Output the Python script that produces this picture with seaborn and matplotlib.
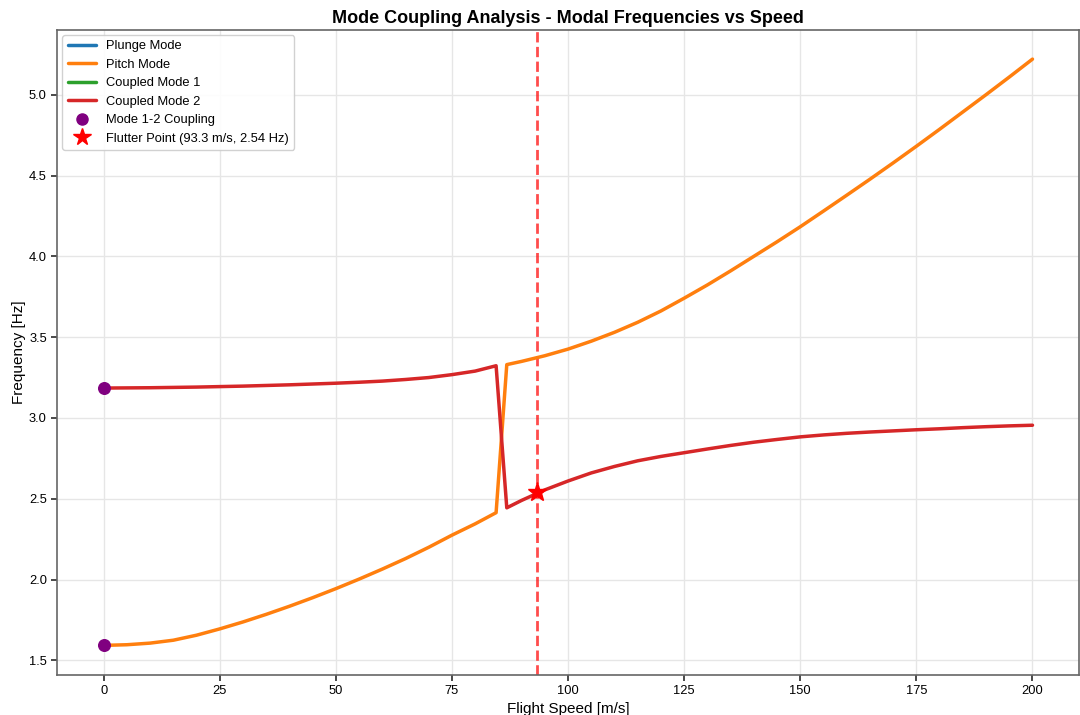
import matplotlib
matplotlib.use("Agg")
import matplotlib.pyplot as plt
from matplotlib.lines import Line2D
import seaborn as sns

# ─── Data ─────────────────────────────────────────────────────────────────────
speed = [0, 5, 10, 15, 20, 25, 30, 35, 40, 45, 50, 55, 60, 65, 70, 75, 80,
         84.5, 86.8, 90, 95, 100, 105, 110, 115, 120, 125, 130, 135, 140,
         145, 150, 155, 160, 165, 170, 175, 180, 185, 190, 195, 200]

pitch_freq = [1.593, 1.597, 1.607, 1.625, 1.656, 1.695, 1.738, 1.785, 1.835,
              1.888, 1.944, 2.003, 2.065, 2.130, 2.200, 2.275, 2.345, 2.414,
              3.330, 3.350, 3.385, 3.426, 3.475, 3.530, 3.592, 3.662, 3.741,
              3.823, 3.910, 4.000, 4.090, 4.183, 4.280, 4.378, 4.477, 4.578,
              4.681, 4.786, 4.893, 5.000, 5.109, 5.220]

coupled2_freq = [3.185, 3.186, 3.187, 3.189, 3.191, 3.194, 3.197, 3.201, 3.205,
                 3.210, 3.215, 3.221, 3.228, 3.238, 3.250, 3.268, 3.290, 3.323,
                 2.444, 2.490, 2.555, 2.610, 2.660, 2.700, 2.735, 2.762, 2.785,
                 2.808, 2.830, 2.850, 2.867, 2.883, 2.895, 2.905, 2.913, 2.920,
                 2.927, 2.933, 2.940, 2.946, 2.951, 2.955]

# plunge and coupled mode 1 are hidden underneath coupled mode 2
plunge_freq = coupled2_freq
coupled1_freq = coupled2_freq

coupling_speed = [0, 0]
coupling_freq = [3.185, 1.593]

flutter_speed = 93.3
flutter_freq = 2.54

# ─── Style ────────────────────────────────────────────────────────────────────
sns.set_theme(style="whitegrid", rc={
    "axes.edgecolor": "0.4",
    "axes.linewidth": 1.2,
    "grid.color": "0.9",
    "xtick.bottom": True,
    "ytick.left": True,
    "xtick.color": "0.2",
    "ytick.color": "0.2",
    "xtick.labelcolor": "black",
    "ytick.labelcolor": "black",
    "text.color": "black",
    "axes.labelcolor": "black",
})
plt.rcParams["font.family"] = ["Liberation Sans", "DejaVu Sans"]

pal = sns.color_palette("tab10")
LW = 2.5

fig, ax = plt.subplots(figsize=(10.8, 7.15), dpi=100)
fig.subplots_adjust(left=0.053, right=0.999, bottom=0.056, top=0.958)

sns.lineplot(x=speed, y=plunge_freq, ax=ax, color=pal[0], linewidth=1.2,
             sort=False, zorder=1)
sns.lineplot(x=speed, y=pitch_freq, ax=ax, color=pal[1], linewidth=LW,
             sort=False, zorder=3)
sns.lineplot(x=speed, y=coupled1_freq, ax=ax, color=pal[2], linewidth=1.2,
             sort=False, zorder=1)
sns.lineplot(x=speed, y=coupled2_freq, ax=ax, color=pal[3], linewidth=LW,
             sort=False, zorder=4)

ax.scatter(coupling_speed, coupling_freq, color="purple", s=70, zorder=5)
ax.axvline(flutter_speed, color="red", linestyle="--", linewidth=2,
           alpha=0.7, zorder=2)
ax.plot([flutter_speed], [flutter_freq], marker="*", color="red",
        markersize=14, linestyle="none", zorder=6)

handles = [
    Line2D([], [], color=pal[0], lw=LW),
    Line2D([], [], color=pal[1], lw=LW),
    Line2D([], [], color=pal[2], lw=LW),
    Line2D([], [], color=pal[3], lw=LW),
    Line2D([], [], color="purple", marker="o", markersize=8, linestyle="none"),
    Line2D([], [], color="red", marker="*", markersize=13, linestyle="none"),
]
labels = ["Plunge Mode", "Pitch Mode", "Coupled Mode 1", "Coupled Mode 2",
          "Mode 1-2 Coupling",
          f"Flutter Point ({flutter_speed:.1f} m/s, {flutter_freq:.2f} Hz)"]

ax.set_xlabel("Flight Speed [m/s]", fontsize=11, labelpad=3)
ax.set_ylabel("Frequency [Hz]", fontsize=11, labelpad=2)
ax.set_title("Mode Coupling Analysis - Modal Frequencies vs Speed",
             fontsize=13, fontweight="bold", pad=5)
ax.tick_params(labelsize=9.3, length=4)
ax.set_xticks([0, 25, 50, 75, 100, 125, 150, 175, 200])
ax.set_yticks([1.5, 2.0, 2.5, 3.0, 3.5, 4.0, 4.5, 5.0])
ax.set_xlim(-10, 210)
ax.set_ylim(1.41, 5.40)
ax.legend(handles, labels, loc="upper left", fontsize=9.3, frameon=True,
          framealpha=0.9, handlelength=2.2, borderaxespad=0.4)

fig.savefig("out.png", dpi=100)
